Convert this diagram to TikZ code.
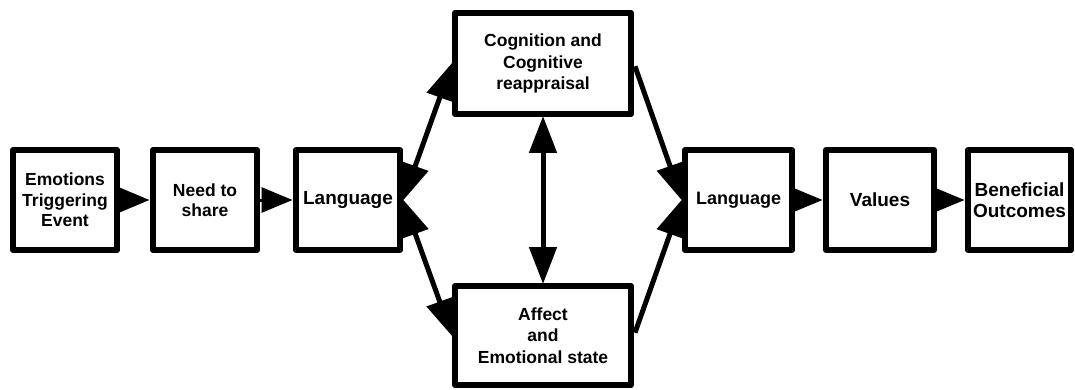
\documentclass[tikz,border=0pt]{standalone}
\usepackage{fontspec}
\setmainfont{Liberation Sans}
\usetikzlibrary{arrows.meta}
\tikzset{
  boxnode/.style={draw=black, line width=6pt, fill=white, align=center, inner sep=0pt,
    line join=round, font=\bfseries\fontsize{17.5}{20.5}\selectfont},
  bigtxt/.style={font=\bfseries\fontsize{19}{21.5}\selectfont},
  hconn/.style={line width=3pt, -{Triangle[length=31pt,width=25pt]}, shorten <=0pt, shorten >=0.5pt},
  dconn/.style={line width=5pt},
  bothtip/.style={{Triangle[length=37pt,width=27pt]}-{Triangle[length=37pt,width=27pt]}, shorten <=-1pt, shorten >=-1pt},
  onetip/.style={-{Triangle[length=37pt,width=27pt]}, shorten <=3pt, shorten >=-1pt}
}
\begin{document}
\begin{tikzpicture}[x=1pt,y=-1pt]
\useasboundingbox (0,0) rectangle (1075,390);
\node[boxnode, minimum width=104pt, minimum height=100pt] (b1) at (65,200) {Emotions\\Triggering\\Event};
\node[boxnode, minimum width=104pt, minimum height=100pt] (b2) at (205,200) {Need to\\share};
\node[boxnode, bigtxt, minimum width=104pt, minimum height=100pt] (b3) at (348,200) {Language};
\node[boxnode, minimum width=176pt, minimum height=101pt, font=\bfseries\fontsize{17.5}{21.7}\selectfont] (cog) at (543,63.5) {Cognition and\\Cognitive\\reappraisal};
\node[boxnode, minimum width=176pt, minimum height=99pt, font=\bfseries\fontsize{17.5}{21.7}\selectfont] (aff) at (543,335.5) {Affect\\and\\Emotional state};
\node[boxnode, minimum width=107pt, minimum height=100pt, font=\bfseries\fontsize{18}{21}\selectfont] (l2) at (738.5,200) {Language};
\node[boxnode, bigtxt, minimum width=108pt, minimum height=100pt] (val) at (880,200) {Values};
\node[boxnode, bigtxt, minimum width=103pt, minimum height=100pt] (ben) at (1019.5,200) {Beneficial\\Outcomes};
\draw[hconn] (b1.east) -- (b2.west);
\draw[hconn] (b2.east) -- (b3.west);
\draw[hconn] (l2.east) -- (val.west);
\draw[hconn] (val.east) -- (ben.west);
\draw[dconn, bothtip] (b3.east) -- (cog.west);
\draw[dconn, bothtip] (b3.east) -- (aff.west);
\draw[dconn, bothtip] (cog.south) -- (aff.north);
\draw[dconn, onetip] (cog.east) -- (l2.west);
\draw[dconn, onetip] (aff.east) -- (l2.west);
\end{tikzpicture}
\end{document}
